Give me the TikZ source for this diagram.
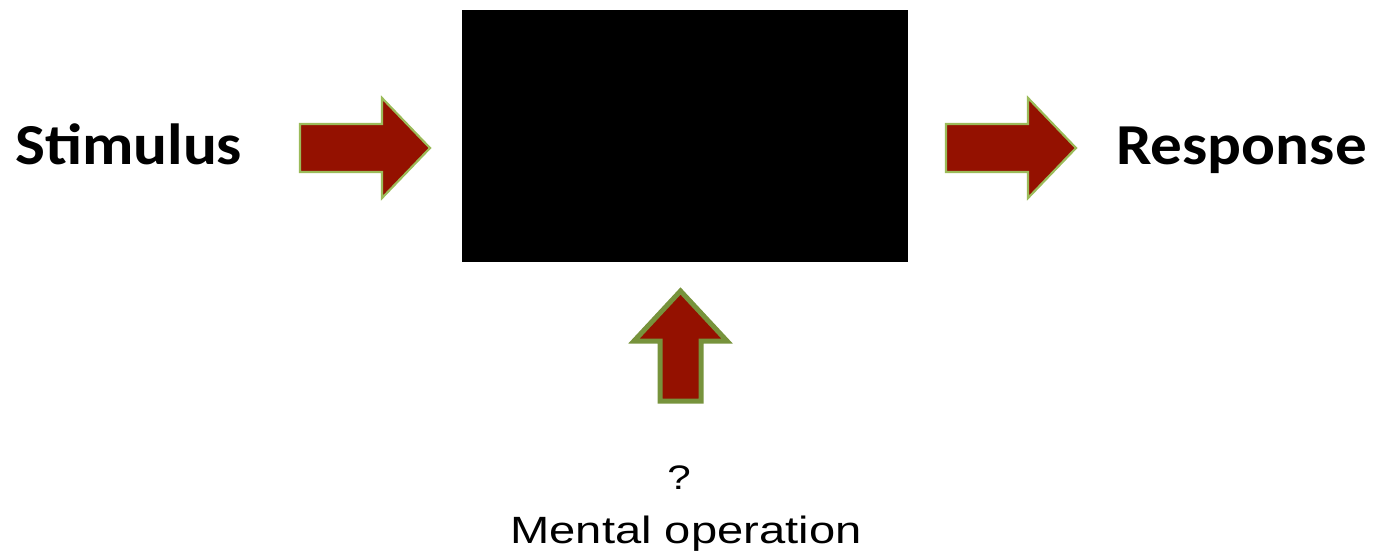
\documentclass[tikz,border=0pt]{standalone}
\usepackage{fontspec}
\setmainfont{Liberation Sans}
\newfontfamily\calfont{Carlito}
\begin{document}
\begin{tikzpicture}[x=1pt,y=-1pt,
  blockarrow/.style={fill=arrowred,draw=lightolive,line width=2.2pt,line join=miter},
  uparrow/.style={fill=arrowred,draw=darkolive,line width=5pt,line join=miter},
  boldlabel/.style={font=\calfont\bfseries\fontsize{58}{58}\selectfont,inner sep=0pt,anchor=base west,xscale=1.09},
  plainlabel/.style={font=\fontsize{38}{38}\selectfont,inner sep=0pt,anchor=base,xscale=1.24}]
\definecolor{arrowred}{HTML}{941100}
\definecolor{lightolive}{HTML}{9BBB59}
\definecolor{darkolive}{HTML}{77933C}
\useasboundingbox (0,0) rectangle (1376,557);
% the black box
\fill[black] (462,10) rectangle (908,262);
% labels
\node[boldlabel] (stim) at (15,164) {Stimulus};
\node[boldlabel] (resp) at (1116,164) {Response};
\node[plainlabel,font=\fontsize{34}{34}\selectfont] (q) at (679,489) {?};
\node[plainlabel] (mental) at (686,543) {Mental operation};
% block arrows
\draw[blockarrow] (300,124) -- (382,124) -- (382,98) -- (430,148) -- (382,198) -- (382,172) -- (300,172) -- cycle;
\draw[blockarrow] (946,124) -- (1028,124) -- (1028,98) -- (1076,148) -- (1028,198) -- (1028,172) -- (946,172) -- cycle;
\draw[uparrow] (660,401) -- (660,341) -- (634,341) -- (680.5,291) -- (727,341) -- (701,341) -- (701,401) -- cycle;
\end{tikzpicture}
\end{document}
